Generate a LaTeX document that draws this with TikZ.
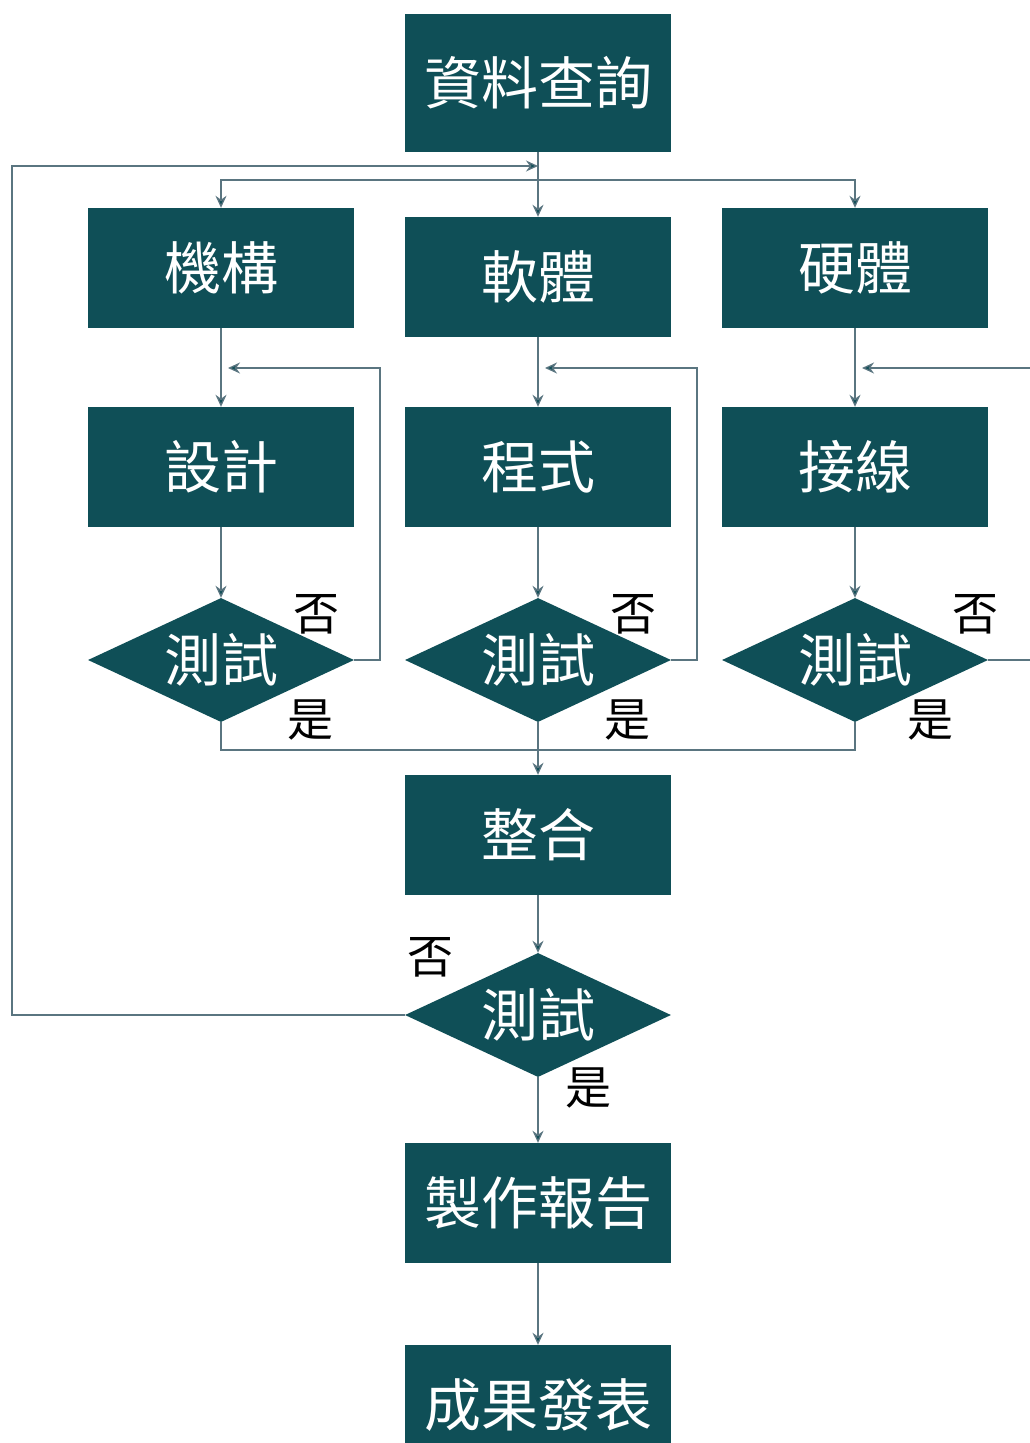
\documentclass[tikz,border=0pt]{standalone}
\usepackage{fontspec}
\newfontfamily\cjk{Noto Sans CJK TC}
\usetikzlibrary{arrows.meta,shapes.geometric}
\definecolor{boxc}{HTML}{0F4F57}
\definecolor{linec}{HTML}{5A7580}
\begin{document}
\begin{tikzpicture}[x=1pt,y=-1pt,
  box/.style={fill=boxc, text=white, minimum width=266pt, minimum height=120pt, inner sep=0pt, font=\cjk\fontsize{57}{57}\selectfont},
  dia/.style={diamond, fill=boxc, text=white, aspect=2.15, minimum width=266pt, minimum height=124pt, inner sep=0pt, font=\cjk\fontsize{57}{57}\selectfont},
  lab/.style={text=black, inner sep=0pt, font=\cjk\fontsize{46}{46}\selectfont},
  conn/.style={draw=linec, line width=1.3pt},
  arr/.style={conn, -{Stealth[length=12pt,width=11pt,fill=boxc]}}]
\useasboundingbox (0,0) rectangle (1029,1443);
\fill[white] (0,0) rectangle (1029,1443);
% nodes
\node[box, minimum height=138pt] (top) at (538,83) {資料查詢};
\node[box] (mech) at (221,268) {機構};
\node[box] (soft) at (538,277) {軟體};
\node[box] (hard) at (855,268) {硬體};
\node[box] (design) at (221,467) {設計};
\node[box] (prog) at (538,467) {程式};
\node[box] (wire) at (855,467) {接線};
\node[dia] (t1) at (221,660) {測試};
\node[dia] (t2) at (538,660) {測試};
\node[dia] (t3) at (855,660) {測試};
\node[box] (int) at (538,835) {整合};
\node[dia] (t4) at (538,1015) {測試};
\node[box] (rep) at (538,1203) {製作報告};
\node[box] (pub) at (538,1405) {成果發表};
% labels
\node[lab] (n1) at (316,614) {否};
\node[lab] (y1) at (310,720) {是};
\node[lab] (n2) at (633,614) {否};
\node[lab] (y2) at (627,720) {是};
\node[lab] (n3) at (975,614) {否};
\node[lab] (y3) at (930,720) {是};
\node[lab] (n4) at (430,957) {否};
\node[lab] (y4) at (588,1088) {是};
% coordinates
\coordinate (split) at (538,180);
\coordinate (loopL) at (12,166);
\coordinate (loopT) at (538,166);
\coordinate (f1r) at (380,368);
\coordinate (f1) at (221,368);
\coordinate (f2r) at (697,368);
\coordinate (f2) at (538,368);
\coordinate (f3a) at (1040,660);
\coordinate (f3b) at (1040,368);
\coordinate (f3) at (855,368);
\coordinate (merge) at (538,750);
% connectors
\draw[arr] (top.south) -- (soft.north);
\draw[arr] (split) -| (mech.north);
\draw[arr] (split) -| (hard.north);
\draw[arr] (t4.west) -| (loopL) -- (loopT);
\draw[arr] (mech.south) -- (design.north);
\draw[arr] (soft.south) -- (prog.north);
\draw[arr] (hard.south) -- (wire.north);
\draw[arr] (design.south) -- (t1.north);
\draw[arr] (prog.south) -- (t2.north);
\draw[arr] (wire.south) -- (t3.north);
\draw[arr, shorten >=7pt] (t1.east) -| (f1r) -- (f1);
\draw[arr, shorten >=7pt] (t2.east) -| (f2r) -- (f2);
\draw[conn] (t3.east) -- (f3a);
\draw[arr, shorten >=7pt] (f3b) -- (f3);
\draw[conn] (t1.south) |- (merge) -| (t3.south);
\draw[arr] (t2.south) -- (int.north);
\draw[arr] (int.south) -- (t4.north);
\draw[arr] (t4.south) -- (rep.north);
\draw[arr] (rep.south) -- (pub.north);
\end{tikzpicture}
\end{document}
